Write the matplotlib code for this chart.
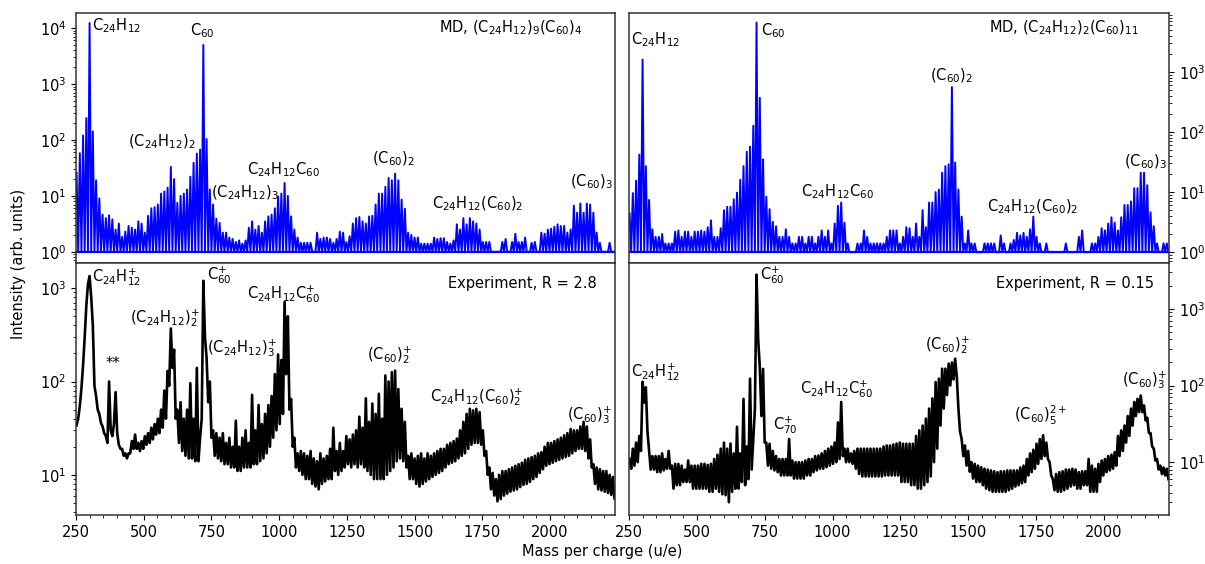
import numpy as np
import matplotlib
matplotlib.use('Agg')
import matplotlib.pyplot as plt
from matplotlib.ticker import MultipleLocator, LogLocator

# ---------------- data ----------------
# MD stick spectra: one stick every 12 u, starting at 252 u
md_start, md_step = 252, 12

md_left = [26, 58, 120, 246, 12300, 142, 19, 9, 4.6, 4,
           4.5, 3.8, 2.5, 3.2, 1.85, 2.3, 2.9, 2.7, 2.5, 3.5,
           3.2, 2.2, 4.4, 6, 6.3, 7, 11, 12, 14, 33,
           20, 7.5, 10, 11, 13, 22, 39, 57, 67, 5000,
           104, 13, 7, 3.9, 3.3, 2.2, 2.2, 1.8, 1.7, 1.5,
           1.6, 1.4, 1.6, 2.7, 3.5, 2.5, 2.9, 2.2, 3.5, 4.3,
           4.6, 6, 9.8, 11, 17, 10, 4.3, 2.5, 1.8, 1.45,
           1.45, 1.45, 1.45, 1.0, 2.2, 1.7, 1.8, 1.8, 1.7, 1.45,
           1.7, 2.3, 2.2, 1.5, 1.9, 3.2, 4, 4.2, 3.5, 3.2,
           4.3, 4.4, 7, 11, 11, 14.5, 21, 19, 25, 19,
           8.6, 5.9, 2.2, 2, 1.8, 1.8, 1.4, 1.4, 1.4, 1.4,
           1.8, 1.7, 1.75, 1.75, 1.5, 1.4, 1.6, 3.1, 2.5, 4,
           3.1, 4, 3.5, 3.2, 2.5, 1.5, 1.5, 1.5, 1.0, 1.0,
           1.0, 1.5, 1.7, 1.0, 1.5, 2.1, 1.5, 1.5, 1.8, 1.0,
           1.45, 1.5, 1.0, 2.2, 2.1, 2.5, 2.6, 2.8, 3.1, 2.9,
           2.9, 2.2, 2.5, 6.7, 5, 7.3, 5, 7.3, 7, 5,
           2.2, 1.45, 1.0, 1.0, 1.45, 1.0]

md_right = [4.4, 9.6, 15.5, 42, 1600, 27, 7.4, 2.4, 1.8, 1.8,
            2, 1.4, 1.4, 1.4, 2.2, 2.3, 1.8, 2.2, 2.2, 1.8,
            2.2, 2.2, 2.3, 2.2, 2.6, 3.4, 1.8, 1.8, 2.5, 5,
            5.7, 5.7, 7.6, 9.8, 16, 27, 47, 57, 127, 6600,
            370, 35, 8.4, 5.2, 3.2, 2.7, 1.8, 1.8, 2.4, 1.8,
            1.4, 1.4, 1.8, 1.8, 1.4, 1.8, 1.8, 1.4, 1.8, 2.3,
            1.8, 2.3, 1.4, 3.0, 5.9, 6.7, 3.1, 1.4, 1.0, 1.0,
            1.4, 1.4, 2.3, 1.8, 1.4, 1.4, 1.4, 1.4, 1.4, 1.8,
            2.3, 2.3, 2.3, 1.4, 1.8, 2.6, 2.5, 1.8, 3.0, 1.8,
            5, 2.6, 6.7, 6.7, 10, 11, 21, 27, 29, 560,
            31, 11, 3.9, 1.4, 2.3, 1.4, 1.4, 1.0, 1.0, 1.4,
            1.4, 1.4, 1.4, 1.0, 1.9, 1.4, 1.0, 1.4, 1.6, 2.1,
            1.9, 2.1, 1.8, 2.4, 3.9, 1.8, 1.4, 1.0, 1.4, 1.0,
            1.0, 1.0, 1.0, 1.0, 1.4, 1.0, 1.0, 1.0, 1.8, 2.3,
            1.0, 1.0, 1.4, 1.4, 1.8, 2.5, 2.3, 3.0, 3.8, 3.1,
            2.3, 3.8, 6.1, 6.1, 7, 11.6, 11.6, 21, 21, 13,
            4.6, 2.7, 1.4, 1.0, 1.4, 1.4]
md_floor = 1.0

# experiment: upper points every 12 u from 252 u, lower points 6 u later
exp_left_hi = [34, 55, 150, 650, 1350, 400, 70, 45, 33, 26,
               100, 26, 77, 21, 19, 17, 17, 23, 27, 22,
               23, 26, 28, 32, 35, 40, 50, 80, 130, 370,
               220, 50, 60, 40, 50, 96, 40, 140, 25, 1200,
               180, 100, 30, 28, 25, 28, 22, 25, 20, 38,
               20, 25, 30, 22, 72, 30, 56, 35, 45, 56,
               70, 120, 195, 170, 710, 500, 65, 25, 17, 18,
               17, 16, 18, 15, 14, 17, 15, 16, 19, 32,
               18, 22, 18, 26, 24, 27, 30, 42, 32, 66,
               37, 58, 45, 74, 40, 116, 100, 126, 131, 83,
               51, 37, 16, 17, 15, 16, 17, 15, 17, 16,
               17, 18, 19, 19, 21, 22, 23, 24.5, 30, 37,
               45, 51, 49, 51, 47, 30, 18, 12, 10.5, 9,
               10, 11, 11, 11.5, 12, 12.5, 13, 13.5, 14.5, 15,
               15.5, 16, 17, 17.5, 20, 22, 22, 23, 24, 25,
               26.5, 28, 31, 30, 30, 33, 37, 33, 24, 13,
               12, 11.5, 11, 11, 10, 9.5]
exp_left_lo = [40, 85, 300, 1100, 800, 90, 50, 36, 28, 22,
               30, 35, 28, 19, 16, 15, 17, 19, 19, 18,
               19, 21, 22, 24, 27, 28, 32, 40, 90, 140,
               40, 22, 18, 16, 15, 15, 14, 14, 40, 300,
               60, 25, 16, 15, 14, 13, 13, 12, 12, 11,
               11, 12, 12, 12, 13, 13, 14, 15, 17, 20,
               25, 30, 35, 45, 120, 50, 20, 12, 11, 10,
               9, 9, 8, 7.5, 7, 8, 8.5, 9, 9, 11,
               10, 11, 12, 13, 12, 13, 12, 13, 12, 11,
               10, 9, 9, 9, 9, 10, 11, 12, 14, 15,
               14, 12, 9, 9, 8, 7.5, 8, 8.5, 9, 9.5,
               10, 10.5, 11, 12, 13, 13.5, 14, 15, 16, 17,
               19, 21, 22, 22, 21, 16, 10, 7, 6, 5.2,
               5.5, 6, 6.3, 6.6, 6.8, 7, 7.4, 7.8, 8, 8.4,
               9, 9.5, 10.5, 11.5, 12.5, 13, 13.5, 14, 14.5, 15,
               15.5, 16, 17, 18, 19, 19, 18, 15, 12, 8,
               7, 6.8, 6.6, 6.4, 6.1, 5.6]

exp_right_hi = [11, 15, 18, 22, 112, 95, 14, 12, 12, 12,
                13, 11, 14, 9, 9.5, 9.5, 9, 8, 10.5, 9,
                9, 9, 9.5, 9.5, 9.2, 9.5, 11, 12.5, 15, 18,
                15, 17.5, 13, 29, 13, 67, 16, 123, 20, 2800,
                174, 165, 18, 17.4, 14, 12, 11, 11, 11, 20,
                10.5, 10, 10, 10, 10.5, 11, 11, 12, 12.2, 13,
                14, 15, 16, 18, 33, 61, 15, 15, 13, 14,
                15, 15, 15, 15, 15, 15, 15, 15, 16, 16.5,
                16.5, 17, 17.5, 18, 17.4, 17.4, 17.4, 17.4, 22, 26,
                30, 37, 50, 68, 111, 123, 166, 166, 193, 200,
                224, 50, 20, 16.5, 14, 10, 9.5, 9, 8.6, 8.2,
                8, 7.8, 7.6, 7.4, 7.6, 7.6, 7.8, 7.8, 7.8, 7.8,
                8.5, 9, 11, 13, 14.5, 17.4, 20, 22.4, 18, 10,
                6, 7, 7.4, 7.6, 8, 8, 8.2, 8, 7.4, 7.6,
                7.6, 11, 9, 8.2, 9.5, 10.5, 11, 12, 12.5, 13.5,
                22, 26, 30, 40, 50, 61, 67, 74, 55, 38,
                24, 15, 11, 9, 8.5, 8.2]
exp_right_lo = [8.2, 9, 10, 14, 60, 25, 8, 8, 7.4, 7.4,
                7.8, 8.2, 8.2, 4.5, 5, 5, 5.5, 5.5, 5.5, 4.5,
                4.5, 4.5, 4.5, 4.5, 4.1, 4.1, 4.5, 4.1, 3.8, 3.7,
                3.0, 4.1, 4.5, 4.5, 5.5, 5, 6, 8, 50, 400,
                40, 18, 9, 8.2, 7.8, 7.4, 6.7, 6.7, 6.7, 6.7,
                6.1, 6.1, 6.1, 6.1, 6.7, 6.7, 7.4, 7.8, 8.2, 8.2,
                8.6, 9, 9.5, 10, 11, 12, 10, 10, 9.5, 8.2,
                7, 6.5, 6.5, 6.5, 6.5, 6.5, 6.5, 6.5, 6.7, 6.7,
                6.7, 6.7, 6.7, 5.5, 5.5, 5.5, 5, 5, 4.5, 4.5,
                5, 5.5, 6.5, 10, 15, 30, 50, 75, 100, 120,
                130, 25, 12, 9, 7.5, 6.1, 5.5, 5.5, 5, 4.5,
                4.3, 4.1, 4.1, 4.1, 4.1, 4.1, 4.3, 4.5, 4.8, 5,
                5.3, 5.5, 6.7, 7.4, 8.2, 9.5, 11, 12, 11, 6.7,
                4.3, 4.1, 4.1, 4.3, 4.5, 4.8, 5, 4.5, 4.5, 5,
                5, 4.1, 4.1, 4.1, 5.5, 6.7, 7.4, 7.8, 8.2, 9,
                12, 14, 18, 22, 30, 40, 45, 45, 35, 24,
                16, 10.5, 8, 7, 6.7, 6]

md_labels = ['MD, (C$_{24}$H$_{12}$)$_9$(C$_{60}$)$_4$',
             'MD, (C$_{24}$H$_{12}$)$_2$(C$_{60}$)$_{11}$']
exp_labels = ['Experiment, R = 2.8', 'Experiment, R = 0.15']


def grid(n, offset=0):
    return md_start + offset + md_step * np.arange(n)


def interleave(hi, lo):
    x = np.ravel(np.column_stack([grid(len(hi)), grid(len(lo), 6)]))
    y = np.ravel(np.column_stack([hi, lo]))
    return x, y


#  ------------------ PLOT DATA ------------------  #
FS = 10.5
plt.rcParams['font.size'] = FS
plt.rcParams['mathtext.fontset'] = 'dejavusans'
fig = plt.figure(figsize=(12.05, 5.64), dpi=100)

ax_tl = fig.add_axes([0.0631, 0.5337, 0.4473, 0.4433])
ax_tr = fig.add_axes([0.5220, 0.5337, 0.4481, 0.4433])
ax_bl = fig.add_axes([0.0631, 0.0869, 0.4473, 0.4468])
ax_br = fig.add_axes([0.5220, 0.0869, 0.4481, 0.4468])

# MD: zig-zag between each stick top and the floor halfway to the next stick
for ax, vals in [(ax_tl, md_left), (ax_tr, md_right)]:
    x, y = interleave(vals, [md_floor] * len(vals))
    ax.plot(x, y, color='blue', lw=1.4)
    ax.axhline(md_floor, color='blue', lw=1.6)

for ax, hi, lo in [(ax_bl, exp_left_hi, exp_left_lo),
                   (ax_br, exp_right_hi, exp_right_lo)]:
    x, y = interleave(hi, lo)
    ax.plot(x, y, color='black', lw=1.9)

ylims = {ax_tl: (10**-0.2, 10**4.27), ax_tr: (10**-0.18, 10**3.98),
         ax_bl: (10**0.57, 10**3.27), ax_br: (10**0.31, 10**3.6)}

for ax in [ax_tl, ax_tr, ax_bl, ax_br]:
    ax.set_yscale('log')
    ax.set_ylim(*ylims[ax])
    ax.set_xlim(250, 2240)
    ax.xaxis.set_major_locator(MultipleLocator(250))
    ax.xaxis.set_minor_locator(MultipleLocator(50))
    ax.yaxis.set_major_locator(LogLocator(base=10))
    ax.yaxis.set_minor_locator(LogLocator(base=10, subs=np.arange(2, 10)))
    ax.tick_params(labelsize=FS)
    for sp in ax.spines.values():
        sp.set_color('#333333')
        sp.set_linewidth(1.1)

for ax in [ax_tl, ax_tr]:
    ax.tick_params(axis='x', which='both', bottom=False, labelbottom=False)
for ax in [ax_tr, ax_br]:
    ax.yaxis.tick_right()

# labels
ax_tl.text(0.94, 0.94, md_labels[0], transform=ax_tl.transAxes, ha='right', va='center')
ax_tr.text(0.943, 0.94, md_labels[1], transform=ax_tr.transAxes, ha='right', va='center')
ax_bl.text(0.967, 0.92, exp_labels[0], transform=ax_bl.transAxes, ha='right', va='center')
ax_br.text(0.972, 0.917, exp_labels[1], transform=ax_br.transAxes, ha='right', va='center')

tl_notes = [('C$_{24}$H$_{12}$', 308, 4.05, 'left'),
            ('C$_{60}$', 715, 3.95, 'center'),
            ('(C$_{24}$H$_{12}$)$_2$', 568, 1.97, 'center'),
            ('(C$_{24}$H$_{12}$)$_3$', 747, 1.06, 'left'),
            ('C$_{24}$H$_{12}$C$_{60}$', 1015, 1.46, 'center'),
            ('(C$_{60}$)$_2$', 1421, 1.67, 'center'),
            ('C$_{24}$H$_{12}$(C$_{60}$)$_2$', 1734, 0.85, 'center'),
            ('(C$_{60}$)$_3$', 2155, 1.25, 'center')]
tr_notes = [('C$_{24}$H$_{12}$', 346, 3.53, 'center'),
            ('C$_{60}$', 736, 3.69, 'left'),
            ('(C$_{60}$)$_2$', 1439, 2.93, 'center'),
            ('C$_{24}$H$_{12}$C$_{60}$', 1018, 1.0, 'center'),
            ('C$_{24}$H$_{12}$(C$_{60}$)$_2$', 1738, 0.75, 'center'),
            ('(C$_{60}$)$_3$', 2155, 1.5, 'center')]
bl_notes = [('C$_{24}$H$_{12}^{+}$', 308, 3.12, 'left'),
            ('C$_{60}^{+}$', 732, 3.14, 'left'),
            ('C$_{24}$H$_{12}$C$_{60}^{+}$', 1015, 2.94, 'center'),
            ('(C$_{24}$H$_{12}$)$_2^{+}$', 578, 2.68, 'center'),
            ('(C$_{24}$H$_{12}$)$_3^{+}$', 862, 2.36, 'center'),
            ('**', 385, 2.19, 'center'),
            ('(C$_{60}$)$_2^{+}$', 1409, 2.28, 'center'),
            ('C$_{24}$H$_{12}$(C$_{60}$)$_2^{+}$', 1730, 1.83, 'center'),
            ('(C$_{60}$)$_3^{+}$', 2147, 1.64, 'center')]
br_notes = [('C$_{60}^{+}$', 734, 3.44, 'left'),
            ('C$_{24}$H$_{12}^{+}$', 346, 2.18, 'center'),
            ('C$_{70}^{+}$', 826, 1.48, 'center'),
            ('C$_{24}$H$_{12}$C$_{60}^{+}$', 1014, 1.95, 'center'),
            ('(C$_{60}$)$_2^{+}$', 1424, 2.53, 'center'),
            ('(C$_{60}$)$_5^{2+}$', 1767, 1.61, 'center'),
            ('(C$_{60}$)$_3^{+}$', 2151, 2.07, 'center')]

for ax, notes in [(ax_tl, tl_notes), (ax_tr, tr_notes),
                  (ax_bl, bl_notes), (ax_br, br_notes)]:
    for txt, xm, ylog, ha in notes:
        ax.text(xm, 10**ylog, txt, ha=ha, va='center')

fig.text(0.015, 0.532, 'Intensity (arb. units)', rotation=90, ha='center', va='center')
fig.text(0.5, 0.023, 'Mass per charge (u/e)', ha='center', va='center')

fig.savefig('out.png', dpi=100)
